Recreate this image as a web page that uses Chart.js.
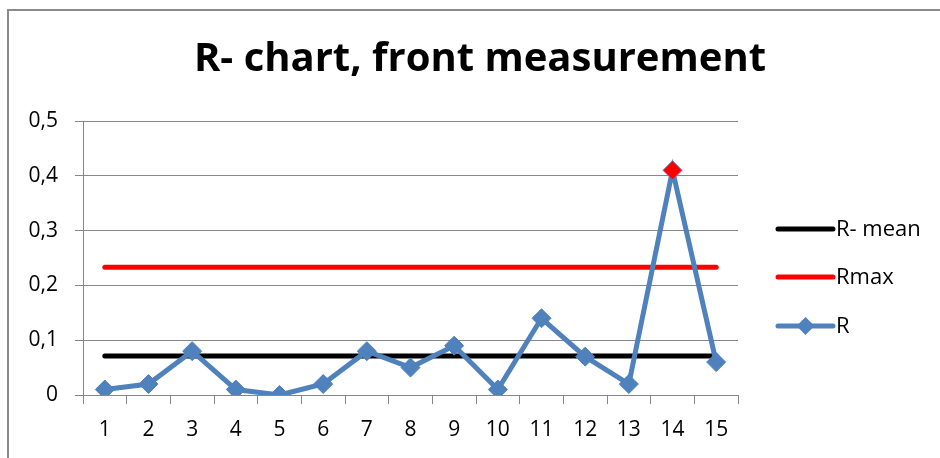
<!DOCTYPE html>
<html>
<head>
<meta charset="utf-8">
<script src="https://cdn.jsdelivr.net/npm/chart.js@4"></script>
<style>
  body { margin: 0; background: #fff; overflow: hidden; }
  #wrap { position: relative; width: 940px; height: 458px; }
  #frame { position: absolute; left: 7px; top: 9px; width: 1000px; height: 600px;
           border-left: 2px solid #8a8a8a; border-top: 2px solid #8a8a8a; }
  canvas { position: absolute; left: 0; top: 0; }
</style>
</head>
<body>
<div id="wrap">
  <div id="frame"></div>
  <canvas id="chartR" width="940" height="458"></canvas>
</div>
<script>
// dados
const samples = ['1', '2', '3', '4', '5', '6', '7', '8', '9', '10', '11', '12', '13', '14', '15'];
const rValues = [0.01, 0.02, 0.08, 0.01, 0, 0.02, 0.08, 0.05, 0.09, 0.01, 0.14, 0.07, 0.02, 0.41, 0.06];
const rMean = [0.071, 0.071, 0.071, 0.071, 0.071, 0.071, 0.071, 0.071, 0.071, 0.071, 0.071, 0.071, 0.071, 0.071, 0.071];
const rMax = [0.233, 0.233, 0.233, 0.233, 0.233, 0.233, 0.233, 0.233, 0.233, 0.233, 0.233, 0.233, 0.233, 0.233, 0.233];
const yTickLabels = ['0', '0,1', '0,2', '0,3', '0,4', '0,5'];

const FONT = "'Open Sans', sans-serif";
const BLUE = '#4F81BD';
const GRID = '#878787';

// ponto acima do Rmax fica vermelho
const pointFill = rValues.map(v => v > rMax[0] ? '#FF0000' : BLUE);

// legenda desenhada à direita (linha + marcador)
const sideLegend = {
    id: 'sideLegend',
    afterDraw(chart) {
        const ctx = chart.ctx;
        const x0 = 778, x1 = 833;
        const rows = [229, 277, 326];
        const ds = chart.data.datasets;
        const items = [ds[1], ds[2], ds[0]];
        ctx.save();
        items.forEach((d, i) => {
            const y = rows[i];
            ctx.strokeStyle = d.borderColor;
            ctx.lineWidth = 5;
            ctx.lineCap = 'round';
            ctx.beginPath();
            ctx.moveTo(x0, y);
            ctx.lineTo(x1, y);
            ctx.stroke();
            if (d.pointRadius > 0) {
                const r = 9, cx = (x0 + x1) / 2;
                ctx.fillStyle = BLUE;
                ctx.beginPath();
                ctx.moveTo(cx - r, y);
                ctx.lineTo(cx, y - r);
                ctx.lineTo(cx + r, y);
                ctx.lineTo(cx, y + r);
                ctx.closePath();
                ctx.fill();
            }
            ctx.fillStyle = '#000';
            ctx.font = '22px ' + FONT;
            ctx.textBaseline = 'middle';
            ctx.textAlign = 'left';
            ctx.fillText(d.label, x1 + 3, y + 1);
        });
        ctx.restore();
    }
};

new Chart(document.getElementById('chartR').getContext('2d'), {
    type: 'line',
    data: {
        labels: samples,
        datasets: [{
            label: 'R',
            data: rValues,
            borderColor: BLUE,
            borderWidth: 5,
            pointStyle: 'rectRot',
            pointRadius: 9.5,
            pointBackgroundColor: pointFill,
            pointBorderColor: BLUE,
            pointBorderWidth: 1,
            tension: 0,
            order: 0
        }, {
            label: 'R- mean',
            data: rMean,
            borderColor: '#000000',
            borderWidth: 5,
            borderCapStyle: 'round',
            pointRadius: 0,
            order: 1
        }, {
            label: 'Rmax',
            data: rMax,
            borderColor: '#FF0000',
            borderWidth: 5,
            borderCapStyle: 'round',
            pointRadius: 0,
            order: 2
        }]
    },
    options: {
        responsive: false,
        animation: false,
        layout: { padding: { left: 20 } },
        plugins: {
            legend: { display: false },
            tooltip: { enabled: false },
            title: {
                display: true,
                text: 'R- chart, front measurement',
                color: '#000',
                font: { family: FONT, size: 40, weight: 'bold' },
                padding: { top: 36, bottom: 37 }
            }
        },
        scales: {
            x: {
                offset: true,
                afterFit: s => { s.height = 63; },
                grid: {
                    display: true,
                    offset: true,
                    drawOnChartArea: false,
                    drawTicks: true,
                    tickLength: 9,
                    color: GRID
                },
                border: { color: GRID, width: 1 },
                ticks: {
                    color: '#000',
                    padding: 13,
                    font: { family: FONT, size: 21 },
                    maxRotation: 0
                }
            },
            y: {
                min: 0,
                max: 0.5,
                afterFit: s => { s.width = 63; },
                grid: {
                    color: GRID,
                    tickLength: 8
                },
                border: { color: GRID, width: 1 },
                ticks: {
                    stepSize: 0.1,
                    color: '#000',
                    padding: 17,
                    font: { family: FONT, size: 21 },
                    callback: (v, i) => yTickLabels[i]
                }
            },
            side: {
                type: 'linear',
                position: 'right',
                display: true,
                afterFit: s => { s.width = 202; },
                grid: { display: false },
                border: { display: false },
                ticks: { display: false }
            }
        }
    },
    plugins: [sideLegend]
});
</script>
</body>
</html>
